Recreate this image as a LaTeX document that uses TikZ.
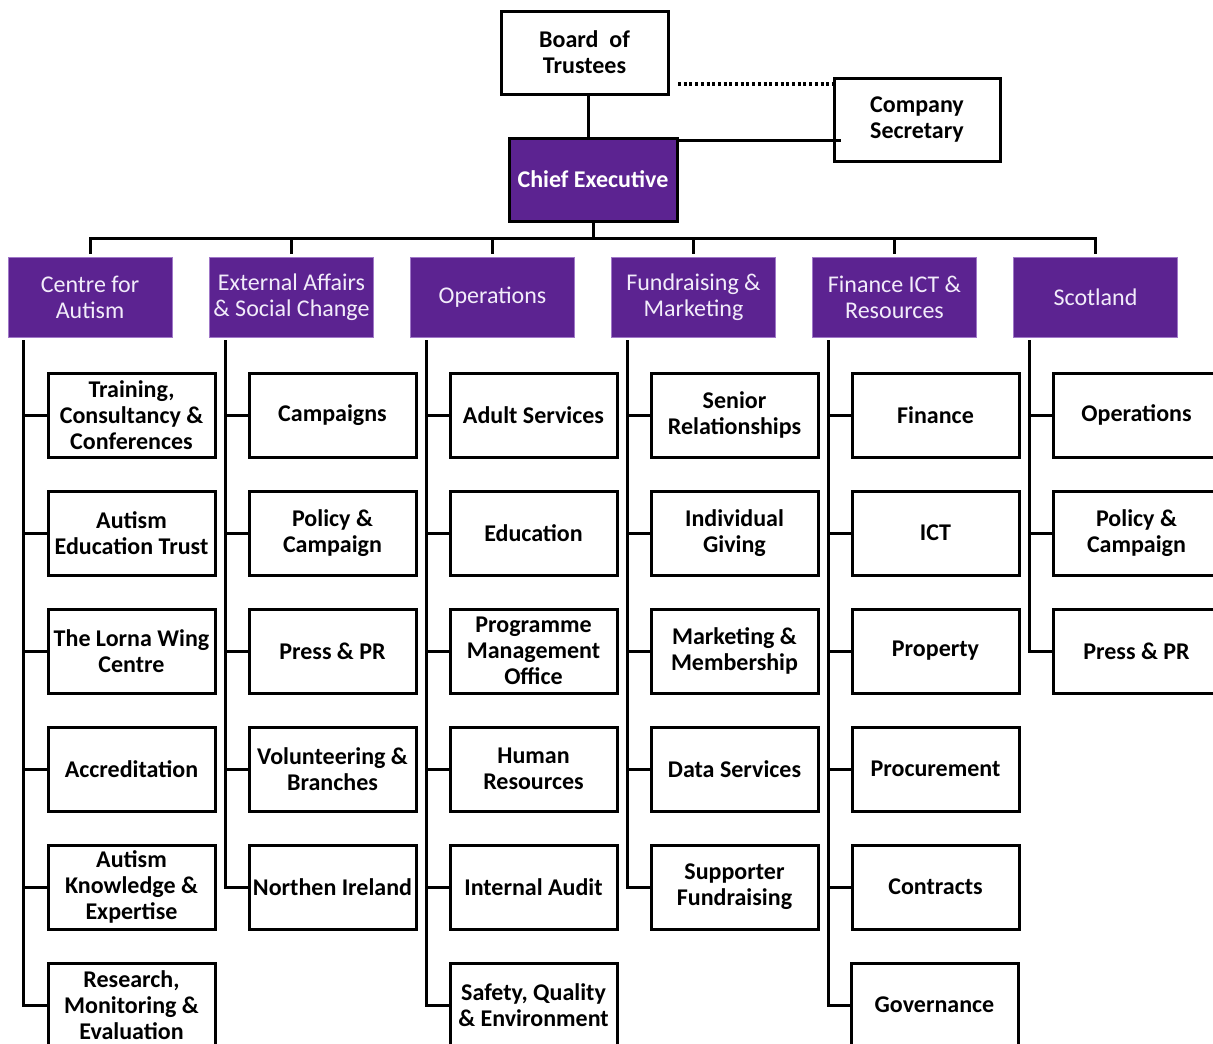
\documentclass[tikz,border=0pt]{standalone}
\usepackage{fontspec}
\setmainfont{Carlito}
\definecolor{purp}{RGB}{92,35,145}
\definecolor{purpedge}{RGB}{160,120,200}
\definecolor{headtext}{RGB}{242,236,250}
\begin{document}
\begin{tikzpicture}[x=1pt,y=-1pt,
  box/.style={draw=black, line width=3pt, fill=white, minimum width=167pt, minimum height=84pt, inner sep=0pt, align=center, font=\bfseries\fontsize{24}{26}\selectfont},
  head/.style={fill=purp, draw=purpedge, line width=0.8pt, minimum width=164pt, minimum height=80pt, inner sep=0pt, align=center, text=headtext, font=\fontsize{24}{26}\selectfont},
  conn/.style={line width=3pt},
  dotline/.style={line width=4pt, dash pattern=on 3pt off 2.7pt}]
\path[use as bounding box] (0,0) rectangle (1213,1044);
\clip (0,0) rectangle (1213,1044);

% top
\node[box, minimum height=83pt] (bot) at (584.5,52.5) {Board\ \ of\\Trustees};
\node[box, minimum height=83pt, minimum width=166pt] (cs) at (917,119.5) {Company\\Secretary};
\node[box, minimum height=83pt, minimum width=168pt, fill=purp, text=white] (ce) at (593,179.5) {Chief Executive};
\coordinate (dotA) at (678,84);
\draw[dotline] (dotA) -- (dotA -| cs.west);
\draw[conn] ([xshift=3.5pt]bot.south) -- ([xshift=3.5pt]bot.south |- ce.north);
\coordinate (csA) at (679,140);
\draw[conn] (csA) -- ([xshift=8pt]csA -| cs.west);

% headers
\node[head] (h1) at (90,297) {Centre for\\Autism};
\node[head] (h2) at (291.5,297) {External Affairs\\\&\ Social Change};
\node[head] (h3) at (492.5,297) {Operations};
\node[head] (h4) at (693.5,297) {Fundraising \&\\Marketing};
\node[head] (h5) at (894.5,297) {Finance ICT \&\\Resources};
\node[head] (h6) at (1095.5,297) {Scotland};

\coordinate (bus) at (593,238);
\draw[conn] (ce.south) -- (bus);
\draw[conn] ([yshift=3pt]h1.north) |- (bus) -| ([yshift=3pt]h6.north);
\foreach \h in {h2,h3,h4,h5}
  \draw[conn] ([yshift=3pt]\h.north) -- (\h.north |- bus);

% column 1
\node[box] (a1) at (131.5,415) {Training,\\Consultancy \&\\Conferences};
\node[box] (a2) at (131.5,533) {Autism\\Education Trust};
\node[box] (a3) at (131.5,651) {The Lorna Wing\\Centre};
\node[box] (a4) at (131.5,769) {Accreditation};
\node[box] (a5) at (131.5,887) {Autism\\Knowledge \&\\Expertise};
\node[box] (a6) at (131.5,1005) {Research,\\Monitoring \&\\Evaluation};
% column 2
\node[box] (b1) at (332.5,415) {Campaigns};
\node[box] (b2) at (332.5,533) {Policy \&\\Campaign};
\node[box] (b3) at (332.5,651) {Press \& PR};
\node[box] (b4) at (332.5,769) {Volunteering \&\\Branches};
\node[box] (b5) at (332.5,887) {Northen Ireland};
% column 3
\node[box] (c1) at (533.5,415) {Adult Services};
\node[box] (c2) at (533.5,533) {Education};
\node[box] (c3) at (533.5,651) {Programme\\Management\\Office};
\node[box] (c4) at (533.5,769) {Human\\Resources};
\node[box] (c5) at (533.5,887) {Internal Audit};
\node[box] (c6) at (533.5,1005) {Safety, Quality\\\&\ Environment};
% column 4
\node[box] (d1) at (734.5,415) {Senior\\Relationships};
\node[box] (d2) at (734.5,533) {Individual\\Giving};
\node[box] (d3) at (734.5,651) {Marketing \&\\Membership};
\node[box] (d4) at (734.5,769) {Data Services};
\node[box] (d5) at (734.5,887) {Supporter\\Fundraising};
% column 5
\node[box] (e1) at (935.5,415) {Finance};
\node[box] (e2) at (935.5,533) {ICT};
\node[box] (e3) at (935.5,651) {Property};
\node[box] (e4) at (935.5,769) {Procurement};
\node[box] (e5) at (935.5,887) {Contracts};
\node[box] (e6) at (934.5,1005) {Governance};
% column 6
\node[box] (f1) at (1136.5,415) {Operations};
\node[box] (f2) at (1136.5,533) {Policy \&\\Campaign};
\node[box] (f3) at (1136.5,651) {Press \& PR};

% trunks and branches
\foreach \h/\c/\n in {h1/a/6, h2/b/5, h3/c/6, h4/d/5, h5/e/6, h6/f/3} {
  \coordinate (T\h) at ([xshift=16pt,yshift=-3pt]\h.south west);
  \draw[conn] (T\h) |- (\c\n.west);
  \foreach \i in {1,...,\n}
    \draw[conn] (\c\i.west) -- (\c\i.west -| T\h);
}
\end{tikzpicture}
\end{document}
